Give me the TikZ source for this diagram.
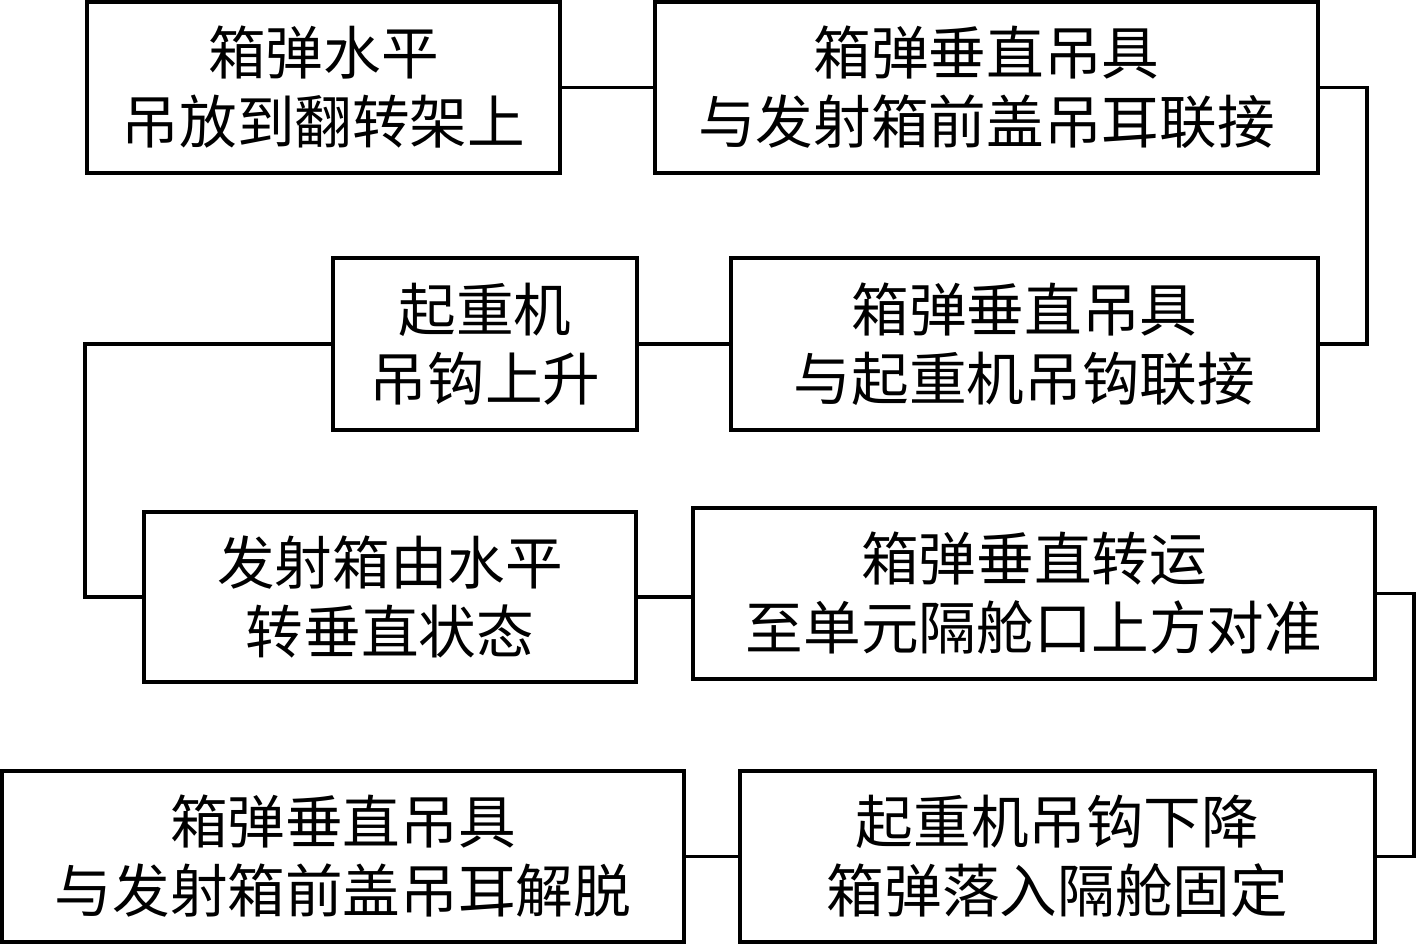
\documentclass[tikz,border=0pt]{standalone}
\usepackage{fontspec}
\setmainfont{Noto Sans CJK SC}
\usetikzlibrary{positioning}

\begin{document}
\begin{tikzpicture}[stepbox/.style={rectangle, draw=black, line width=1.2pt, inner sep=0pt, align=center, font=\fontsize{16.4pt}{19.6pt}\selectfont},
                    link/.style={draw=black, line width=1.1pt}]
    \useasboundingbox (0,0) rectangle (14.17,9.45);
    % nodes
    \node[stepbox, minimum width=4.73cm, minimum height=1.71cm] (hang)    at (3.235,8.575)  {箱弹水平\\吊放到翻转架上};
    \node[stepbox, minimum width=6.63cm, minimum height=1.71cm] (lugfix)  at (9.865,8.575)  {箱弹垂直吊具\\与发射箱前盖吊耳联接};
    \node[stepbox, minimum width=3.04cm, minimum height=1.72cm] (lift)    at (4.85,6.01)    {起重机\\吊钩上升};
    \node[stepbox, minimum width=5.87cm, minimum height=1.72cm] (hookfix) at (10.245,6.01)  {箱弹垂直吊具\\与起重机吊钩联接};
    \node[stepbox, minimum width=4.92cm, minimum height=1.70cm] (turn)    at (3.90,3.48)    {发射箱由水平\\转垂直状态};
    \node[stepbox, minimum width=6.82cm, minimum height=1.71cm] (move)    at (10.34,3.515)  {箱弹垂直转运\\至单元隔舱口上方对准};
    \node[stepbox, minimum width=6.82cm, minimum height=1.71cm] (release) at (3.43,0.885)   {箱弹垂直吊具\\与发射箱前盖吊耳解脱};
    \node[stepbox, minimum width=6.35cm, minimum height=1.71cm] (lower)   at (10.575,0.885) {起重机吊钩下降\\箱弹落入隔舱固定};
    % lines
    \draw[link] (hang.east) -- (lugfix.west);
    \draw[link] (lugfix.east) -- ++(0.47,0) |- (hookfix.east);
    \draw[link] (hookfix.west) -- (lift.east);
    \draw[link] (lift.west) -- ++(-2.46,0) |- (turn.west);
    \draw[link] (turn.east) -- (turn.east -| move.west);
    \draw[link] (move.east) -- ++(0.37,0) |- (lower.east);
    \draw[link] (lower.west) -- (release.east);
\end{tikzpicture}
\end{document}
